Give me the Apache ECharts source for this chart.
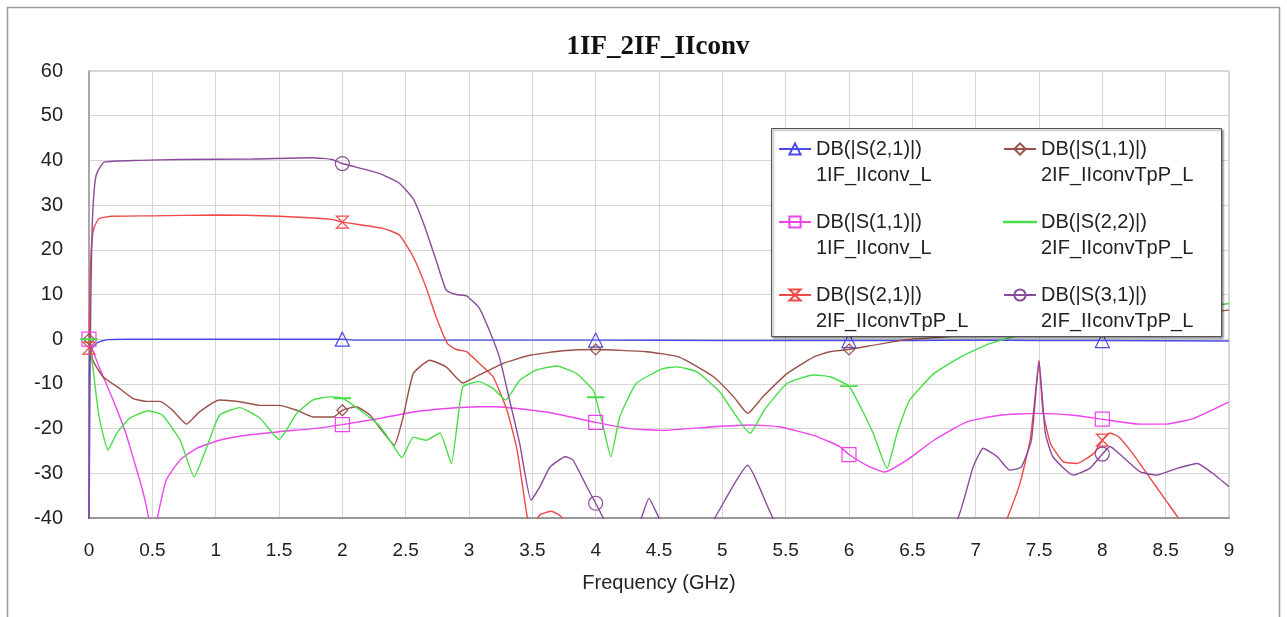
<!DOCTYPE html>
<html>
<head>
<meta charset="utf-8">
<title>1IF_2IF_IIconv</title>
<script src="https://cdn.jsdelivr.net/npm/echarts@6/dist/echarts.min.js"></script>
<style>
  html, body { margin: 0; padding: 0; background: #fff; }
  #chart { width: 1287px; height: 617px; }
</style>
</head>
<body>
<div id="chart"></div>
<script>
// marker positions (GHz) shared by all traces
const markerFreqs = [0, 2, 4, 6, 8];

// DB(|S(2,1)|) 1IF_IIconv_L
const s21_1IF_f  = [0, 0.003, 0.01, 0.03, 0.06, 0.1, 0.15, 0.3, 1, 2, 2.1, 3, 4, 5, 6, 6.5, 7, 7.5, 8, 9];
const s21_1IF_db = [-45, -8, -3, -1.8, -0.9, -0.4, -0.1, 0, 0, 0, -0.2, -0.2, -0.2, -0.3, -0.3, -0.3, -0.2, -0.3, -0.3, -0.4];

// DB(|S(1,1)|) 1IF_IIconv_L
const s11_1IF_f  = [0, 0.03, 0.08, 0.19, 0.29, 0.37, 0.43, 0.47, 0.5, 0.54, 0.61, 0.72, 0.85, 1.03, 1.24, 1.5, 1.77, 2.0, 2.3, 2.56, 2.82, 3.08, 3.22, 3.61, 4.0, 4.27, 4.53, 4.93, 5.22, 5.45, 5.72, 5.85, 5.93, 6.0, 6.14, 6.28, 6.46, 6.67, 6.93, 7.19, 7.48, 7.77, 8.0, 8.3, 8.5, 8.72, 9.0];
const s11_1IF_db = [0, -2.5, -6.2, -13.6, -21, -28.6, -34.6, -40, -48, -40, -31.5, -27, -24.4, -22.6, -21.5, -20.7, -20, -19.1, -17.7, -16.3, -15.5, -15.1, -15.1, -16.3, -18.6, -20, -20.4, -19.6, -19.2, -19.6, -21.5, -23, -24.1, -25.8, -28.2, -29.7, -27, -22.6, -18.5, -17, -16.6, -17, -17.9, -19, -19, -17.7, -14];

// DB(|S(2,1)|) 2IF_IIconvTpP_L
const s21_2IF_f  = [0, 0.005, 0.01, 0.02, 0.04, 0.08, 0.18, 0.5, 1.0, 1.5, 1.92, 2.0, 2.32, 2.45, 2.56, 2.66, 2.74, 2.83, 2.9, 2.98, 3.08, 3.19, 3.3, 3.38, 3.46, 3.5, 3.56, 3.65, 3.72, 3.76, 3.9, 4.0, 7.1, 7.25, 7.35, 7.43, 7.48, 7.5, 7.53, 7.59, 7.69, 7.8, 7.93, 8.0, 8.06, 8.13, 8.24, 8.37, 8.5, 8.6, 8.7, 9];
const s21_2IF_db = [-2, 8, 15, 21, 25, 27, 27.5, 27.6, 27.8, 27.5, 26.8, 26.2, 24.8, 23.3, 18.4, 11.7, 5, -1, -2.3, -2.8, -5.4, -8.4, -15.9, -24.8, -39.8, -42, -39.3, -38.5, -39.5, -41, -48, -50, -50, -40, -32.2, -22.6, -9.9, -4.7, -15.9, -23.3, -27.4, -27.8, -25.6, -22.6, -21, -21.9, -25.6, -30.8, -36, -40, -45, -55];

// DB(|S(1,1)|) 2IF_IIconvTpP_L
const s11_2IF_f  = [0, 0.03, 0.11, 0.24, 0.35, 0.45, 0.56, 0.66, 0.77, 0.87, 1.03, 1.19, 1.35, 1.5, 1.64, 1.77, 1.93, 2.0, 2.11, 2.22, 2.3, 2.41, 2.48, 2.56, 2.69, 2.82, 2.95, 3.08, 3.27, 3.48, 3.74, 4.0, 4.4, 4.66, 4.93, 5.09, 5.2, 5.32, 5.51, 5.72, 5.85, 6.0, 6.43, 7.0, 7.5, 8.0, 8.5, 9.0];
const s11_2IF_db = [0, -4.7, -8.4, -11, -13.3, -13.9, -13.9, -15.9, -19, -16.3, -13.6, -14, -14.8, -14.8, -15.9, -17.4, -17.4, -15.9, -15.1, -17, -20, -23.7, -17.4, -7.7, -4.7, -6.2, -9.8, -8, -5.4, -3.6, -2.6, -2.3, -2.8, -4, -8.4, -12.9, -16.6, -12.9, -7.7, -4, -2.8, -2.3, -0.2, 1, 2.5, 4, 5.3, 6.5];

// DB(|S(2,2)|) 2IF_IIconvTpP_L
const s22_2IF_f  = [0, 0.03, 0.08, 0.15, 0.22, 0.32, 0.47, 0.58, 0.72, 0.83, 0.93, 1.03, 1.19, 1.35, 1.5, 1.64, 1.77, 1.9, 2.0, 2.16, 2.3, 2.39, 2.47, 2.56, 2.66, 2.77, 2.86, 2.95, 3.08, 3.19, 3.29, 3.4, 3.53, 3.69, 3.85, 3.98, 4.0, 4.06, 4.12, 4.19, 4.32, 4.53, 4.64, 4.8, 4.98, 5.22, 5.33, 5.51, 5.72, 5.85, 6.0, 6.09, 6.19, 6.3, 6.38, 6.48, 6.67, 6.88, 7.11, 7.5, 8.0, 8.5, 9.0];
const s22_2IF_db = [0, -6.2, -17.4, -24.8, -21, -17.7, -16, -17, -22.6, -30.8, -24.1, -17, -15.3, -17.7, -22.4, -16.6, -13.6, -12.9, -13.2, -16.3, -19.6, -23.3, -26.5, -21.9, -22.6, -21, -27.8, -10.7, -9.5, -11, -13.6, -9.2, -6.9, -6, -7.7, -11.4, -13, -19.6, -26.3, -17.4, -9.9, -6.6, -6.2, -7.3, -11.8, -21, -15.9, -9.9, -8, -8.4, -10.5, -15.1, -21, -28.9, -21, -13.6, -7.7, -4, -1, 2, 4, 6, 8];

// DB(|S(3,1)|) 2IF_IIconvTpP_L
const s31_2IF_f  = [0, 0.008, 0.015, 0.025, 0.04, 0.06, 0.12, 0.4, 0.71, 1.29, 1.76, 1.92, 2.0, 2.29, 2.45, 2.56, 2.64, 2.74, 2.82, 2.9, 2.98, 3.08, 3.16, 3.24, 3.32, 3.4, 3.49, 3.56, 3.64, 3.76, 3.82, 3.93, 4.0, 4.06, 4.2, 4.36, 4.42, 4.5, 4.7, 4.94, 5.2, 5.4, 5.8, 6.0, 6.5, 6.86, 6.98, 7.06, 7.17, 7.27, 7.36, 7.44, 7.5, 7.55, 7.61, 7.77, 7.9, 8.0, 8.06, 8.16, 8.3, 8.43, 8.59, 8.75, 8.87, 9.0];
const s31_2IF_db = [-45, -10, 10, 25, 33, 37, 39.6, 40, 40.2, 40.3, 40.6, 40.2, 39.3, 37.1, 34.9, 31.4, 26, 17.7, 11, 10, 9.7, 7, 2, -4, -13.6, -23.3, -36, -33, -28.6, -26.3, -27, -33, -36.7, -40, -48, -40, -35.6, -40, -50, -40, -28.2, -40, -55, -60, -55, -40, -28.6, -24.4, -26.3, -29.3, -28.6, -22.6, -5, -21, -26.3, -30.4, -28.9, -25.7, -24, -26.3, -29.7, -30.4, -28.9, -27.8, -30, -33];

// axis ticks
const yTicks = { min: -40, max: 60, step: 10 };
const xTicks = { min: 0, max: 9, step: 0.5 };

const FONT = "'Liberation Sans', Arial, sans-serif";

// markerSym: symbol drawn at the marker freqs (series symbol may differ, e.g. 'none' for a plain legend line)
function mkData(fs, dbs, markerSym, markerSize) {
    return fs.map((f, i) => {
        const item = { value: [f, dbs[i]] };
        if (markerFreqs.indexOf(f) < 0) item.symbol = 'none';
        else if (markerSym) { item.symbol = markerSym; item.symbolSize = markerSize; }
        return item;
    });
}

function mkSeries(name, fs, dbs, color, symbol, size, opts) {
    opts = opts || {};
    return {
        name: name,
        type: 'line',
        data: mkData(fs, dbs, opts.markerSym, opts.markerSize),
        symbol: symbol,
        symbolSize: size,
        symbolKeepAspect: true,
        smooth: 0.15,
        clip: true,
        animation: false,
        lineStyle: { color: color, width: 1.4 },
        itemStyle: { color: opts.fill || 'rgba(255,255,255,0)', borderColor: color, borderWidth: 1.2 },
        emphasis: { disabled: true }
    };
}

const names = [
    'DB(|S(2,1)|)\n1IF_IIconv_L',
    'DB(|S(1,1)|)\n1IF_IIconv_L',
    'DB(|S(2,1)|)\n2IF_IIconvTpP_L',
    'DB(|S(1,1)|)\n2IF_IIconvTpP_L',
    'DB(|S(2,2)|)\n2IF_IIconvTpP_L',
    'DB(|S(3,1)|)\n2IF_IIconvTpP_L'
];

const series = [
    mkSeries(names[0], s21_1IF_f, s21_1IF_db, '#4a4ae8', 'triangle', 14),
    mkSeries(names[1], s11_1IF_f, s11_1IF_db, '#ee44ee', 'rect', 14),
    mkSeries(names[2], s21_2IF_f, s21_2IF_db, '#ee4848', 'path://M0,0L10,0L0,10L10,10Z', 12),
    mkSeries(names[3], s11_2IF_f, s11_2IF_db, '#9a5048', 'diamond', 11),
    mkSeries(names[4], s22_2IF_f, s22_2IF_db, '#48dd48', 'none', 1,
             { markerSym: 'rect', markerSize: [14, 1.5], fill: '#48dd48' }),
    mkSeries(names[5], s31_2IF_f, s31_2IF_db, '#8a4a9c', 'circle', 14)
];

function legendOf(list, left) {
    return {
        data: list, orient: 'vertical', left: left, top: 110, padding: 0,
        zlevel: 1, z: 5,
        itemWidth: 32, itemHeight: 14, itemGap: -5, selectedMode: false,
        symbolKeepAspect: true,
        // blank first line so the icon sits beside the first text line
        formatter: name => ' \n' + name,
        textStyle: { fontFamily: FONT, fontSize: 20, color: '#222', lineHeight: 26 }
    };
}

const option = {
    backgroundColor: '#fff',
    animation: false,
    title: {
        text: '1IF_2IF_IIconv',
        left: 653, top: 29, textAlign: 'center',
        textStyle: { fontFamily: "'Liberation Serif', 'Times New Roman', serif", fontWeight: 'bold', fontSize: 27, color: '#111' }
    },
    grid: { left: 89, top: 71, width: 1140, height: 447, show: true, borderColor: '#b0b0b0', borderWidth: 1 },
    xAxis: {
        type: 'value', min: xTicks.min, max: xTicks.max, interval: xTicks.step,
        name: 'Frequency (GHz)', nameLocation: 'middle', nameGap: 55,
        nameTextStyle: { fontFamily: FONT, fontSize: 20, color: '#222' },
        axisLine: { onZero: false, lineStyle: { color: '#999', width: 2 } },
        axisTick: { show: false },
        axisLabel: { fontFamily: FONT, fontSize: 19, color: '#222', margin: 23 },
        splitLine: { show: true, lineStyle: { color: '#d6d6d6', width: 1 } }
    },
    yAxis: {
        type: 'value', min: yTicks.min, max: yTicks.max, interval: yTicks.step,
        axisLine: { show: true, onZero: false, lineStyle: { color: '#999', width: 1.5 } },
        axisTick: { show: false },
        axisLabel: { fontFamily: FONT, fontSize: 20, color: '#222', margin: 26 },
        splitLine: { show: true, lineStyle: { color: '#d6d6d6', width: 1 } }
    },
    legend: [
        legendOf(names.slice(0, 3), 778),
        legendOf([
            names[3],
            { name: names[4], icon: 'path://M0,0L32,0L32,0.7L0,0.7Z' },
            names[5]
        ], 1003)
    ],
    graphic: [
        {
            type: 'rect', z: 0, silent: true,
            shape: { x: 7.5, y: 7.5, width: 1272, height: 620 },
            style: { fill: 'none', stroke: '#9a9a9a', lineWidth: 1.5 }
        },
        {
            type: 'rect', zlevel: 1, z: 0, silent: true,
            shape: { x: 771.5, y: 128.5, width: 450, height: 208 },
            style: { fill: '#fff', stroke: '#555', lineWidth: 1, shadowColor: 'rgba(0,0,0,0.45)', shadowBlur: 2, shadowOffsetX: 1.5, shadowOffsetY: 1.5 }
        }
    ],
    series: series
};

const chart = echarts.init(document.getElementById('chart'), null, { renderer: 'canvas' });
chart.setOption(option);
</script>
</body>
</html>
